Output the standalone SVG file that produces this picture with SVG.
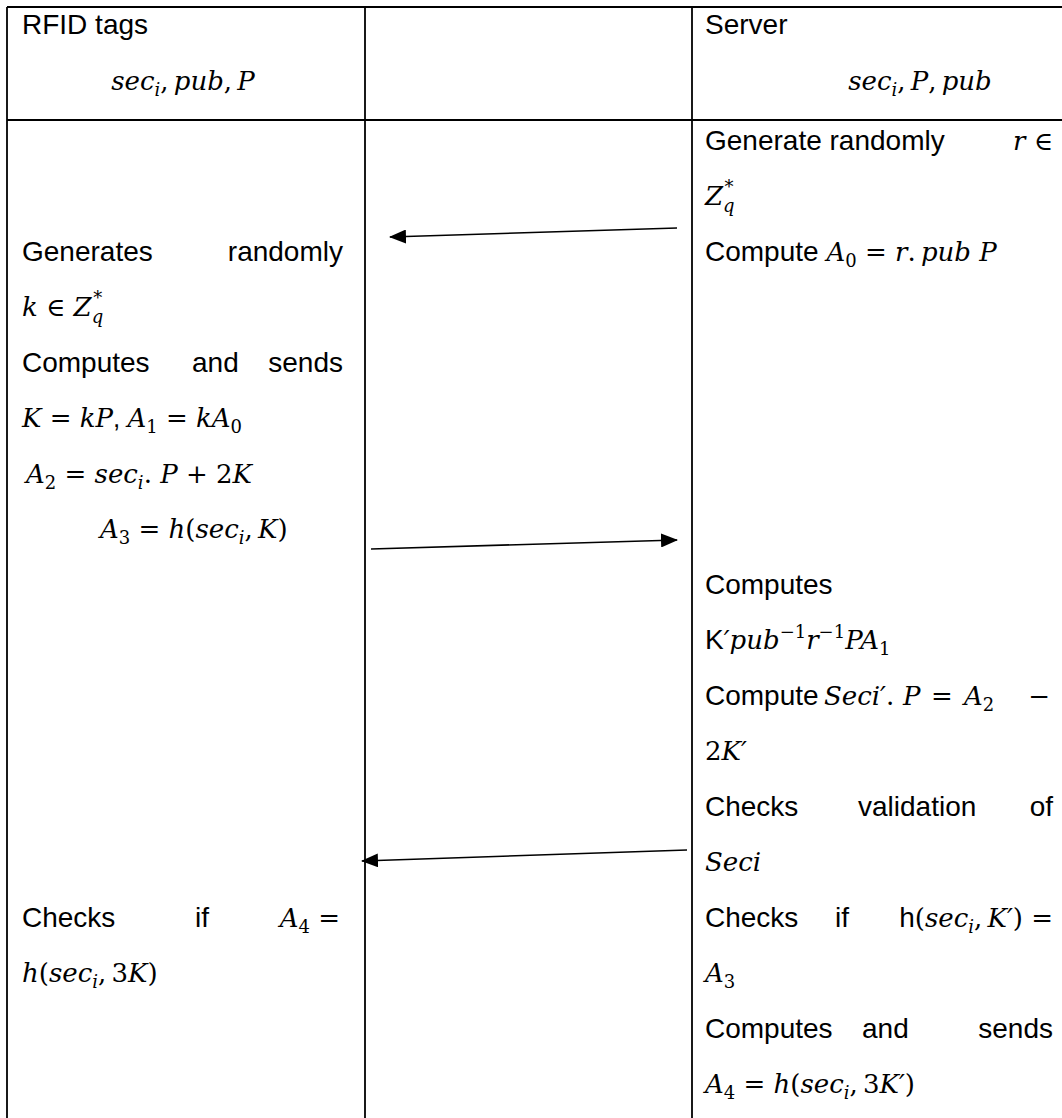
<svg xmlns="http://www.w3.org/2000/svg" width="1062" height="1118" viewBox="0 0 1062 1118">
<style>
.t{font-family:"Liberation Sans",Arial,sans-serif;font-size:28px;fill:#000}
.m{font-family:"DejaVu Serif","Liberation Serif",serif;font-style:italic;font-size:26px;fill:#000}
.u{font-style:normal}
.s{font-size:18px}
.grid{stroke:#000;stroke-width:1.8;fill:none}
.arr{stroke:#000;stroke-width:1.6;fill:none;marker-end:url(#ah)}
</style>
<defs>
<marker id="ah" markerUnits="userSpaceOnUse" markerWidth="18" markerHeight="14" refX="16" refY="7" orient="auto">
<path d="M0,0 L17,7 L0,14 Z" fill="#000"/>
</marker>
</defs>
<rect width="1062" height="1118" fill="#fff"/>
<g id="table">
<line class="grid" x1="7" y1="7" x2="1062" y2="7"/>
<line class="grid" x1="7" y1="120" x2="1062" y2="120"/>
<line class="grid" x1="7" y1="7" x2="7" y2="1118"/>
<line class="grid" x1="365" y1="7" x2="365" y2="1118"/>
<line class="grid" x1="692" y1="7" x2="692" y2="1118"/>
</g>
<g id="tags-header">
<text class="t" x="22" y="34">RFID tags</text>
<text class="m" x="183" y="90" text-anchor="middle">sec<tspan class="s" dy="6">i</tspan><tspan class="u" dy="-6">,&#8201;</tspan>pub<tspan class="u">,&#8201;</tspan>P</text>
</g>
<g id="server-header">
<text class="t" x="705" y="34">Server</text>
<text class="m" x="920" y="90" text-anchor="middle">sec<tspan class="s" dy="6">i</tspan><tspan class="u" dy="-6">,&#8201;</tspan>P<tspan class="u">,&#8201;</tspan>pub</text>
</g>
<g id="tags-steps">
<text class="t" x="22" y="261">Generates</text>
<text class="t" x="343" y="261" text-anchor="end">randomly</text>
<text class="m" x="22" y="316">k <tspan class="u">∈ </tspan>Z<tspan class="s" dy="7">q</tspan><tspan class="s u" dx="-10" dy="-19">*</tspan></text>
<text class="t" x="22" y="372">Computes</text>
<text class="t" x="192" y="372">and</text>
<text class="t" x="343" y="372" text-anchor="end">sends</text>
<text class="m" x="22" y="427">K<tspan class="u"> = </tspan>kP<tspan class="u" font-family="Liberation Sans">, </tspan>A<tspan class="s u" dy="6">1</tspan><tspan class="u" dy="-6"> = </tspan>kA<tspan class="s u" dy="6">0</tspan></text>
<text class="m" x="26" y="483">A<tspan class="s u" dy="6">2</tspan><tspan class="u" dy="-6"> = </tspan>sec<tspan class="s" dy="6">i</tspan><tspan class="u" dy="-6">. </tspan>P<tspan class="u"> + 2</tspan>K</text>
<text class="m" x="100" y="538">A<tspan class="s u" dy="6">3</tspan><tspan class="u" dy="-6"> = </tspan>h<tspan class="u">(</tspan>sec<tspan class="s" dy="6">i</tspan><tspan class="u" dy="-6">,&#8201;</tspan>K<tspan class="u">)</tspan></text>
<text class="t" x="22" y="927">Checks</text>
<text class="t" x="195" y="927">if</text>
<text class="m" x="340" y="927" text-anchor="end">A<tspan class="s u" dy="6">4</tspan><tspan class="u" dy="-6"> =</tspan></text>
<text class="m" x="22" y="982">h<tspan class="u">(</tspan>sec<tspan class="s" dy="6">i</tspan><tspan class="u" dy="-6">,&#8201;3</tspan>K<tspan class="u">)</tspan></text>
</g>
<g id="server-steps">
<text class="t" x="705" y="150">Generate randomly</text>
<text class="m" x="1053" y="150" text-anchor="end">r <tspan class="u">∈</tspan></text>
<text class="m" x="705" y="205">Z<tspan class="s" dy="7">q</tspan><tspan class="s u" dx="-10" dy="-19">*</tspan></text>
<text class="t" x="705" y="261">Compute <tspan class="m">A<tspan class="s u" dy="6">0</tspan><tspan class="u" dy="-6"> = </tspan>r<tspan class="u">.&#8201;</tspan>pub P</tspan></text>
<text class="t" x="705" y="594">Computes</text>
<text class="t" x="705" y="649">K<tspan class="m">′pub<tspan class="s u" dy="-11">−1</tspan><tspan dy="11">r</tspan><tspan class="s u" dy="-11">−1</tspan><tspan dy="11">PA</tspan><tspan class="s u" dy="6">1</tspan></tspan></text>
<text class="t" x="705" y="705">Compute</text>
<text class="m" x="824" y="705">Seci′<tspan class="u">.</tspan></text>
<text class="m" x="903" y="705">P</text>
<text class="m u" x="931" y="705">=</text>
<text class="m" x="964" y="705">A<tspan class="s u" dy="6">2</tspan></text>
<text class="m u" x="1050" y="705" text-anchor="end">−</text>
<text class="m" x="705" y="760"><tspan class="u">2</tspan>K′</text>
<text class="t" x="705" y="816">Checks</text>
<text class="t" x="858" y="816">validation</text>
<text class="t" x="1053" y="816" text-anchor="end">of</text>
<text class="m" x="705" y="871">Seci</text>
<text class="t" x="705" y="927">Checks</text>
<text class="t" x="835" y="927">if</text>
<text class="t" x="1053" y="927" text-anchor="end">h<tspan class="m"><tspan class="u">(</tspan>sec<tspan class="s" dy="6">i</tspan><tspan class="u" dy="-6">,&#8201;</tspan>K′<tspan class="u">) =</tspan></tspan></text>
<text class="m" x="705" y="982">A<tspan class="s u" dy="6">3</tspan></text>
<text class="t" x="705" y="1038">Computes</text>
<text class="t" x="862" y="1038">and</text>
<text class="t" x="1053" y="1038" text-anchor="end">sends</text>
<text class="m" x="705" y="1093">A<tspan class="s u" dy="6">4</tspan><tspan class="u" dy="-6"> = </tspan>h<tspan class="u">(</tspan>sec<tspan class="s" dy="6">i</tspan><tspan class="u" dy="-6">,&#8201;3</tspan>K′<tspan class="u">)</tspan></text>
</g>
<g id="connectors">
<line class="arr" x1="677" y1="228" x2="390" y2="237"/>
<line class="arr" x1="371" y1="549" x2="677" y2="540"/>
<line class="arr" x1="687" y1="850" x2="362" y2="861"/>
</g>
</svg>
